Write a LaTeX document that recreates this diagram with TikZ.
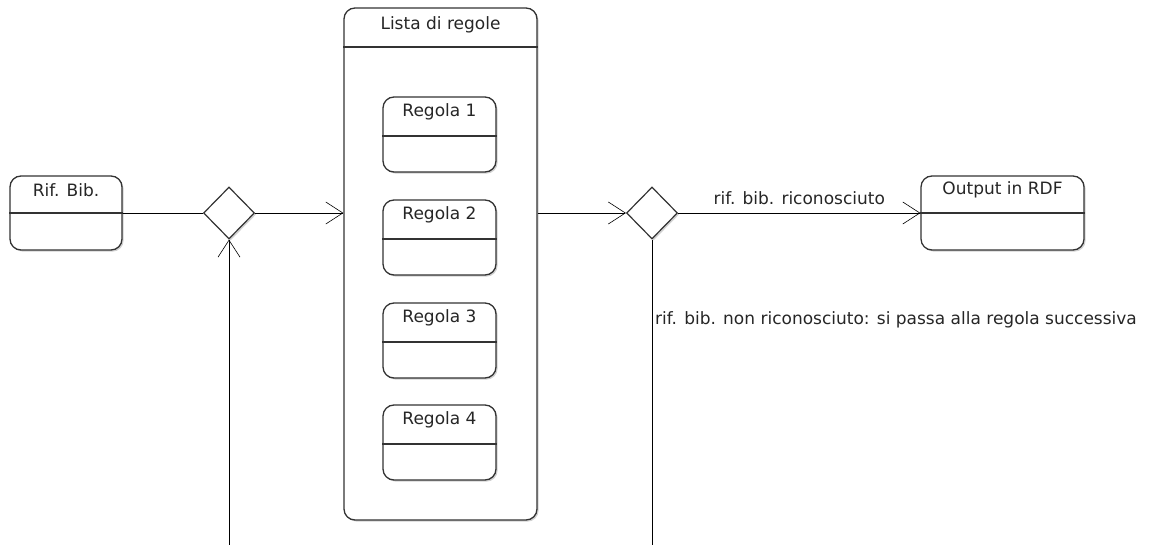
\documentclass[tikz,border=0pt]{standalone}
\usepackage{fontspec}
\setmainfont{DejaVu Sans}
\usetikzlibrary{arrows.meta,shapes.geometric,shadows}
\begin{document}
\begin{tikzpicture}[x=1pt,y=-1pt,
  shade1/.style={drop shadow={shadow xshift=1.6pt,shadow yshift=-1.6pt,opacity=0.3,fill=black!60}},
  statebox/.style={draw=black!80, line width=1.3pt, rounded corners=11pt, fill=white, shade1, inner sep=0pt},
  choice/.style={diamond, draw=black!80, line width=1.2pt, fill=white, minimum width=51pt, minimum height=52pt, inner sep=0pt, shade1},
  flow/.style={draw=black, line width=0.9pt},
  arr/.style={flow, -{Straight Barb[length=17pt,width=22pt,line width=0.6pt]}},
  lbl/.style={font=\fontsize{17}{20}\selectfont, inner sep=0pt, text=black!85},
  divider/.style={draw=black!80, line width=1.1pt}
]
\useasboundingbox (0,0) rectangle (1155,545);

% main boxes
\node[statebox, minimum width=112pt, minimum height=74pt] (rif) at (66,213) {};
\draw[divider] (rif.west) -- (rif.east);
\node[lbl] (riftxt) at (66,190) {Rif. Bib.};

\node[statebox, minimum width=193pt, minimum height=512pt] (list) at (440.5,264) {};
\draw[divider] (list.west |- 0,47) -- (list.east |- 0,47);
\node[lbl] (listtxt) at (440.5,25) {Lista di regole};

\foreach \i/\t in {1/97,2/200,3/303,4/405}{
  \node[statebox, minimum width=113pt, minimum height=75pt] (r\i) at (439.5,\t+37.5) {};
  \draw[divider] (r\i.west |- 0,\t+39) -- (r\i.east |- 0,\t+39);
  \node[lbl] (r\i txt) at (439.5,\t+15) {Regola \i};
}

\node[statebox, minimum width=163pt, minimum height=74pt] (out) at (1002.5,213) {};
\draw[divider] (out.west) -- (out.east);
\node[lbl] (outtxt) at (1002.5,190) {Output in RDF};

% decisions
\node[choice] (d1) at (229,213) {};
\node[choice] (d2) at (652,213) {};

\coordinate (b1) at (229,545);
\coordinate (b2) at (652,545);

% connectors
\draw[flow] (rif.east) -- (d1.west);
\draw[arr] (d1.east) -- (list.west |- d1.east);
\draw[arr] (b1) -- (d1.south);
\draw[arr] (list.east |- d2.west) -- (d2.west);
\draw[arr] (d2.east) -- (out.west) node[lbl, midway, above=8pt] (ok) {rif. bib. riconosciuto};
\draw[flow] (d2.south) -- (b2);
\node[lbl, anchor=west] (nok) at (655,320) {rif. bib. non riconosciuto: si passa alla regola successiva};
\end{tikzpicture}
\end{document}
